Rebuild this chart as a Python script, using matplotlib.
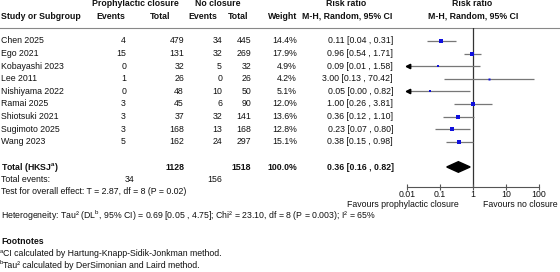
import numpy as np
import matplotlib
matplotlib.use("Agg")
import matplotlib.pyplot as plt

plt.rcParams["font.family"] = ["Liberation Sans", "DejaVu Sans"]
plt.rcParams["mathtext.fontset"] = "custom"
plt.rcParams["mathtext.rm"] = "Liberation Sans"

# ---- data ----
studies = ["Chen 2025", "Ego 2021", "Kobayashi 2023", "Lee 2011", "Nishiyama 2022",
           "Ramai 2025", "Shiotsuki 2021", "Sugimoto 2025", "Wang 2023"]
ev_tx = [4, 15, 0, 1, 0, 3, 3, 3, 5]
n_tx = [479, 131, 32, 26, 48, 45, 37, 168, 162]
ev_ctl = [34, 32, 5, 0, 10, 6, 32, 13, 24]
n_ctl = [445, 269, 32, 26, 50, 90, 141, 168, 297]
weights = [14.4, 17.9, 4.9, 4.2, 5.1, 12.0, 13.6, 12.8, 15.1]
rr = [0.11, 0.96, 0.09, 3.00, 0.05, 1.00, 0.36, 0.23, 0.38]
lo = [0.04, 0.54, 0.01, 0.13, 0.00, 0.26, 0.12, 0.07, 0.15]
hi = [0.31, 1.71, 1.58, 70.42, 0.82, 3.81, 1.10, 0.80, 0.98]
lo_true = [0.04, 0.54, 0.005, 0.13, 0.003, 0.26, 0.12, 0.07, 0.15]  # below axis -> arrow

tot_tx, tot_ctl = 1128, 1518
tot_ev_tx, tot_ev_ctl = 34, 156
pooled, pooled_lo, pooled_hi = 0.36, 0.16, 0.82

ticks = [0.01, 0.1, 1, 10, 100]
tick_labels = ["0.01", "0.1", "1", "10", "100"]

FS = 6.35
W, H = 560, 272
fig = plt.figure(figsize=(W / 100, H / 100), dpi=100)

# text layer: x in pixels, y in row units
tax = fig.add_axes([0, 0, 1, 1])
tax.set_xlim(0, W)
tax.set_ylim(18.33, -3.25)
tax.axis("off")

# forest layer, same row units
ax = fig.add_axes([407 / W, 1 - 187 / H, 132 / W, 159 / H])
ax.set_xscale("log")
ax.set_xlim(0.01, 100)
ax.set_ylim(11.59, -1.03)
ax.patch.set_alpha(0)

def t(x, y, s, ha="left", bold=False, size=FS, **kw):
    tax.text(x, y, s, ha=ha, va="center", fontsize=size, color="#111111",
             fontweight="bold" if bold else "normal", **kw)

# headers
h1, h2 = -2.94, -1.98
t(135, h1, "Prophylactic closure", "center", True)
t(218, h1, "No closure", "center", True)
t(346, h1, "Risk ratio", "center", True)
t(472, h1, "Risk ratio", "center", True)
t(1, h2, "Study or Subgroup", bold=True)
t(125, h2, "Events", "right", True)
t(170, h2, "Total", "right", True)
t(217, h2, "Events", "right", True)
t(248, h2, "Total", "right", True)
t(297, h2, "Weight", "right", True)
t(347, h2, "M-H, Random, 95% CI", "center", True)
t(473, h2, "M-H, Random, 95% CI", "center", True)
tax.axhline(-1.03, color="#888888", lw=0.8)

rows = np.arange(len(studies))
for i, r in enumerate(rows):
    t(1, r, studies[i])
    t(126, r, str(ev_tx[i]), "right")
    t(184, r, str(n_tx[i]), "right")
    t(222, r, str(ev_ctl[i]), "right")
    t(251, r, str(n_ctl[i]), "right")
    t(297, r, f"{weights[i]:.1f}%", "right")
    t(393, r, f"{rr[i]:.2f} [{lo[i]:.2f} , {hi[i]:.2f}]", "right")

# totals
rt = 10
t(1, rt, r"Total (HKSJ$^{\mathregular{a}}$)", bold=True)
t(184, rt, str(tot_tx), "right", True)
t(251, rt, str(tot_ctl), "right", True)
t(297, rt, "100.0%", "right", True)
t(394, rt, f"{pooled:.2f} [{pooled_lo:.2f} , {pooled_hi:.2f}]", "right", True)
t(1, 11.0, "Total events:")
t(134, 11.0, str(tot_ev_tx), "right")
t(222, 11.0, str(tot_ev_ctl), "right")
t(1, 11.98, "Test for overall effect: T = 2.87, df = 8 (P = 0.02)")
t(1, 13.9, r"Heterogeneity: Tau² (DL$^{\mathregular{b}}$, 95% CI) = 0.69 [0.05 , 4.75]; "
           r"Chi² = 23.10, df = 8 (P = 0.003); I² = 65%")
t(1, 15.9, "Footnotes", bold=True)
t(0, 16.7, "a", size=4.2)
t(3, 16.88, "CI calculated by Hartung-Knapp-Sidik-Jonkman method.")
t(0, 17.6, "b", size=4.2)
t(3, 17.78, "Tau² calculated by DerSimonian and Laird method.")

# forest marks
for i, r in enumerate(rows):
    x0 = max(lo_true[i], 0.01)
    ax.plot([x0, hi[i]], [r, r], color="#777777", lw=0.9, solid_capstyle="butt", zorder=2)
    if lo_true[i] < 0.01:
        ax.plot([0.0108], [r], marker="<", color="black", ms=3.2, zorder=3, clip_on=False)
    ax.plot([rr[i]], [r], marker="s", color="#1010dd", ms=0.7 * np.sqrt(weights[i]),
            mew=0, zorder=4)

dx = [pooled_lo, pooled, pooled_hi, pooled]
dy = [rt, rt - 0.42, rt, rt + 0.42]
ax.fill(dx, dy, color="black", zorder=4)

ax.axvline(1, color="#333333", lw=0.9, zorder=1)
for s in ["left", "top", "right"]:
    ax.spines[s].set_visible(False)
ax.spines["bottom"].set_color("#555555")
ax.spines["bottom"].set_linewidth(0.8)
ax.set_yticks([])
ax.set_xticks(ticks)
ax.set_xticklabels(tick_labels)
ax.minorticks_off()
ax.tick_params(axis="x", direction="inout", length=5, width=0.8, color="#555555",
               labelsize=FS, labelcolor="#111111", pad=0)

t(403, 13.0, "Favours prophylactic closure", "center")
t(558, 13.0, "Favours no closure", "right")

fig.savefig("out.png", dpi=100)
